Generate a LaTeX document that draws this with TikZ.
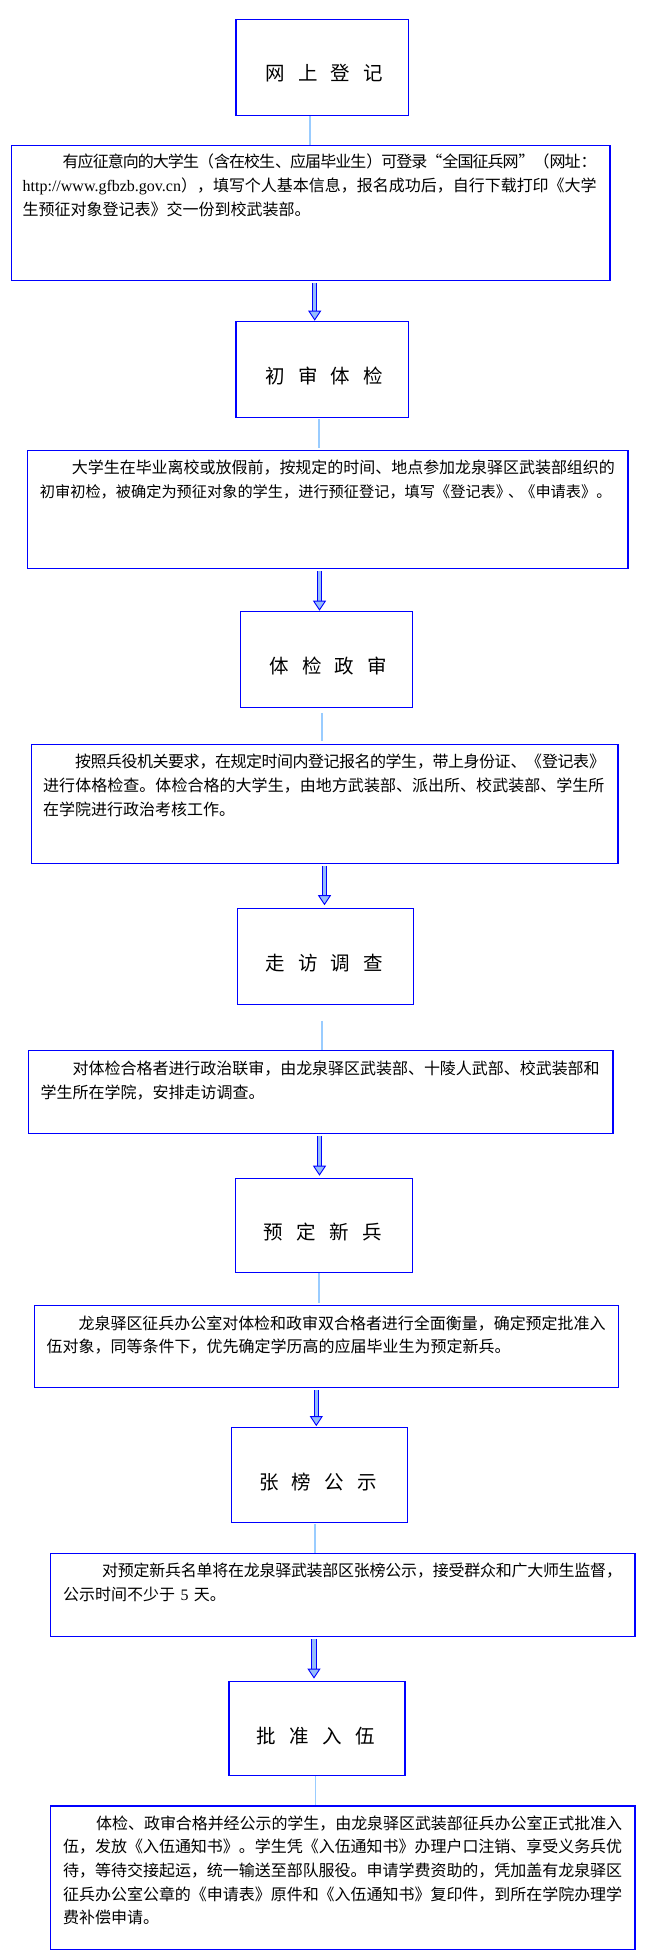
\documentclass[tikz,border=0pt]{standalone}
\usepackage{fontspec}
\setmainfont{Liberation Serif}
\newfontfamily\cjk{Noto Sans CJK SC}
\usetikzlibrary{arrows.meta,calc}
\XeTeXlinebreaklocale "zh"
\XeTeXlinebreakskip=0pt plus 2pt minus 2pt
\definecolor{boxblue}{RGB}{0,0,255}
\definecolor{linkblue}{RGB}{153,204,255}
\definecolor{arrowfill}{RGB}{150,190,250}
\newcommand\titlesp{\spaceskip 13.4pt\relax}
\begin{document}
\begin{tikzpicture}[x=1pt,y=-1pt,
  titlebox/.style={draw=boxblue,line width=1.2pt,inner sep=0pt,minimum height=96pt},
  descbox/.style={draw=boxblue,line width=1.2pt,inner sep=0pt},
  titletext/.style={font=\cjk\fontsize{19.5}{19.5}\selectfont\titlesp,inner sep=0pt},
  desctext/.style={font=\cjk\fontsize{16}{23.7}\selectfont,inner sep=0pt,anchor=north west},
  link/.style={draw=linkblue,line width=1.8pt},
  bigarrow/.style={draw=boxblue,line width=0.9pt,double=arrowfill,double distance=3.4pt,
    -{Triangle[length=10pt,width=13pt,fill=arrowfill]}}]
\useasboundingbox (0,0) rectangle (647,1956);

% title boxes
\node[titlebox,minimum width=172.5pt] (t1) at (322.2,67.5) {};
\node[titlebox,minimum width=172.5pt] (t2) at (322.2,369.3) {};
\node[titlebox,minimum width=172pt] (t3) at (326.2,659.3) {};
\node[titlebox,minimum width=176pt] (t4) at (325.3,956.3) {};
\node[titlebox,minimum width=177pt,minimum height=94pt] (t5) at (323.7,1225.3) {};
\node[titlebox,minimum width=176pt,minimum height=94.6pt] (t6) at (319.2,1475) {};
\node[titlebox,minimum width=176pt,minimum height=93.6pt] (t7) at (317,1728.5) {};

\node[titletext] (t1x) at ($(t1.center)+(2,6)$) {网 上 登 记};
\node[titletext] (t2x) at ($(t2.center)+(2,6.5)$) {初 审 体 检};
\node[titletext] (t3x) at ($(t3.center)+(2,6.5)$) {体 检 政 审};
\node[titletext] (t4x) at ($(t4.center)+(-1,6.5)$) {走 访 调 查};
\node[titletext] (t5x) at ($(t5.center)+(-1,7)$) {预 定 新 兵};
\node[titletext] (t6x) at ($(t6.center)+(-1,7)$) {张 榜 公 示};
\node[titletext] (t7x) at ($(t7.center)+(-1,7.5)$) {批 准 入 伍};

% description boxes
\node[descbox,minimum width=598.4pt,minimum height=134.6pt] (d1) at (310.8,213) {};
\node[descbox,minimum width=600.5pt,minimum height=118pt] (d2) at (327.65,509.3) {};
\node[descbox,minimum width=586.5pt,minimum height=119pt] (d3) at (324.75,803.8) {};
\node[descbox,minimum width=584.3pt,minimum height=83pt] (d4) at (320.85,1091.8) {};
\node[descbox,minimum width=584.2pt,minimum height=81.6pt] (d5) at (326.6,1346.5) {};
\node[descbox,minimum width=584.2pt,minimum height=83pt] (d6) at (342.8,1594.8) {};
\node[descbox,minimum width=584.2pt,minimum height=143.3pt] (d7) at (342.8,1877.65) {};

\node[desctext,text width=574pt] (d1x) at ($(d1.north west)+(11.5,9)$) {\hspace*{40pt}有应征意向的大学生（含在校生、应届毕业生）可登录“全国征兵网”（网址：\linebreak {\rmfamily http://www.gfbzb.gov.cn}），填写个人基本信息，报名成功后，自行下载打印《大学\linebreak 生预征对象登记表》交一份到校武装部。};
\node[desctext,text width=575pt] (d2x) at ($(d2.north west)+(12.9,10.5)$) {\hspace*{32pt}大学生在毕业离校或放假前，按规定的时间、地点参加龙泉驿区武装部组织的\linebreak {\fontsize{15.2}{23.7}\selectfont 初审初检，被确定为预征对象的学生，进行预征登记，填写《登记表》\kern-3pt、\kern-3pt《申请表》。}};
\node[desctext,text width=562pt] (d3x) at ($(d3.north west)+(12.1,10.3)$) {\hspace*{32pt}按照兵役机关要求，在规定时间内登记报名的学生，带上身份证、《登记表》\linebreak 进行体格检查。体检合格的大学生，由地方武装部、派出所、校武装部、学生所\linebreak 在学院进行政治考核工作。};
\node[desctext,text width=559pt] (d4x) at ($(d4.north west)+(12.4,11.5)$) {\hspace*{32pt}对体检合格者进行政治联审，由龙泉驿区武装部、十陵人武部、校武装部和\linebreak 学生所在学院，安排走访调查。};
\node[desctext,text width=559pt] (d5x) at ($(d5.north west)+(12.5,10.2)$) {\hspace*{32pt}龙泉驿区征兵办公室对体检和政审双合格者进行全面衡量，确定预定批准入\linebreak 伍对象，同等条件下，优先确定学历高的应届毕业生为预定新兵。};
\node[desctext,text width=559pt] (d6x) at ($(d6.north west)+(12.9,10.3)$) {\hspace*{39pt}对预定新兵名单将在龙泉驿武装部区张榜公示，接受群众和广大师生监督，\linebreak 公示时间不少于 {\rmfamily 5} 天。};
\node[desctext,text width=559pt] (d7x) at ($(d7.north west)+(12.9,9.9)$) {\hspace*{33pt}体检、政审合格并经公示的学生，由龙泉驿区武装部征兵办公室正式批准入\linebreak 伍，发放《入伍通知书》。学生凭《入伍通知书》办理户口注销、享受义务兵优\linebreak 待，等待交接起运，统一输送至部队服役。申请学费资助的，凭加盖有龙泉驿区\linebreak 征兵办公室公章的《申请表》原件和《入伍通知书》复印件，到所在学院办理学\linebreak 费补偿申请。};

% light connectors title -> description
\coordinate (c1) at ([xshift=-12pt]t1.south);
\coordinate (c2) at ([xshift=-3.5pt]t2.south);
\coordinate (c3) at ([xshift=-4pt]t3.south);
\coordinate (c4) at ([xshift=-3pt]t4.south);
\coordinate (c5) at ([xshift=-5pt]t5.south);
\coordinate (c6) at ([xshift=-4pt]t6.south);
\coordinate (c7) at ([xshift=-1.6pt]t7.south);
\draw[link] (c1) -- (c1 |- d1.north);
\draw[link,shorten <=1.5pt,shorten >=2pt] (c2) -- (c2 |- d2.north);
\draw[link,shorten <=5pt,shorten >=2.6pt] (c3) -- (c3 |- d3.north);
\draw[link,shorten <=16pt] (c4) -- (c4 |- d4.north);
\draw[link,shorten >=2.5pt] (c5) -- (c5 |- d5.north);
\draw[link,shorten <=1.5pt] (c6) -- (c6 |- d6.north);
\draw[link] (c7) -- (c7 |- d7.north);

% block arrows description -> next title
\coordinate (a1) at ([xshift=-7.5pt]t2.north);
\coordinate (a2) at ([xshift=-6.7pt]t3.north);
\coordinate (a3) at ([xshift=-0.8pt]t4.north);
\coordinate (a4) at ([xshift=-4.2pt]t5.north);
\coordinate (a5) at ([xshift=-2.9pt]t6.north);
\coordinate (a6) at ([xshift=-3pt]t7.north);
\draw[bigarrow,shorten <=2pt] (a1 |- d1.south) -- (a1);
\draw[bigarrow,shorten <=2pt] (a2 |- d2.south) -- (a2);
\draw[bigarrow,shorten <=2pt,shorten >=2.5pt] (a3 |- d3.south) -- (a3);
\draw[bigarrow,shorten <=2pt,shorten >=2pt] (a4 |- d4.south) -- (a4);
\draw[bigarrow,shorten <=2pt,shorten >=1pt] (a5 |- d5.south) -- (a5);
\draw[bigarrow,shorten <=2pt,shorten >=2.5pt] (a6 |- d6.south) -- (a6);
\end{tikzpicture}
\end{document}
